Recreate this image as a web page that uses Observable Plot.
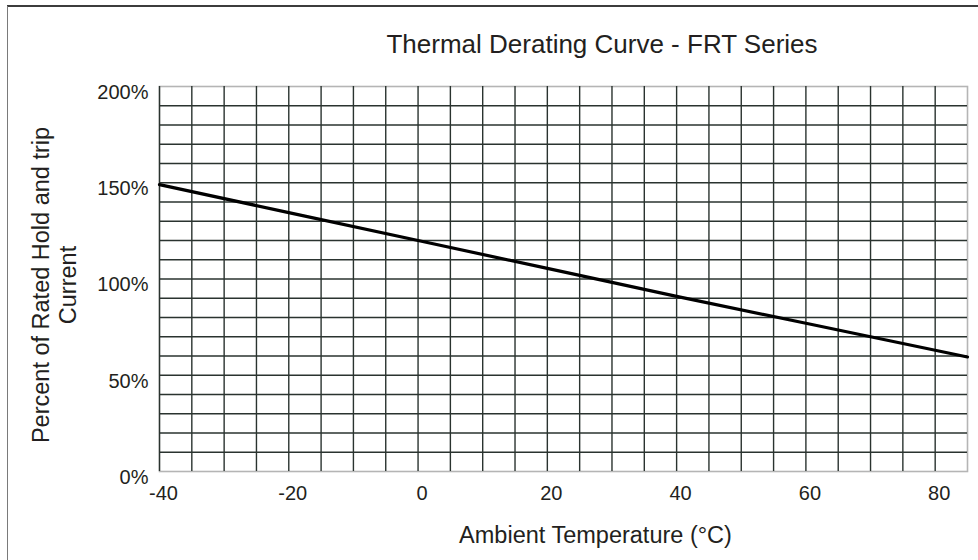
<!DOCTYPE html>
<html>
<head>
<meta charset="utf-8">
<script src="https://cdn.jsdelivr.net/npm/d3@7"></script>
<script src="https://cdn.jsdelivr.net/npm/@observablehq/plot@0.6"></script>
<style>
  html, body { margin: 0; padding: 0; background: #fff; }
  #wrap { position: relative; width: 978px; height: 560px; overflow: hidden; font-family: "Liberation Sans", Arial, sans-serif; color: #231f20; }
  #topline { position: absolute; left: 7px; top: 5px; width: 971px; height: 2px; background: #3c3c3c; }
  #leftline { position: absolute; left: 7px; top: 6px; width: 1px; height: 554px; background: #7a7a7a; }
  #title { position: absolute; left: 302px; width: 600px; top: 29px; line-height: 30px; font-size: 26px; text-align: center; white-space: nowrap; }
  #chart { position: absolute; left: 0; top: 0; }
</style>
</head>
<body>
<div id="wrap">
  <div id="chart"></div>
  <div id="topline"></div>
  <div id="leftline"></div>
  <div id="title">Thermal Derating Curve - FRT Series</div>
</div>
<script>
// Data
const temps = [-40, -20, 0, 20, 40, 60, 85];
const percents = [149, 134.5, 120, 105.5, 91, 77, 59.5];

// Axis ticks
const xTicks = [-40, -20, 0, 20, 40, 60, 80];
const yTicks = [0, 50, 100, 150, 200];

// Grid lines (every 5 °C and every 10 %)
const gridX = [-40, -35, -30, -25, -20, -15, -10, -5, 0, 5, 10, 15, 20, 25, 30, 35, 40, 45, 50, 55, 60, 65, 70, 75, 80];
const gridY = [10, 20, 30, 40, 50, 60, 70, 80, 90, 100, 110, 120, 130, 140, 150, 160, 170, 180, 190];

const xLabel = "Ambient Temperature (°C)";
const yLabel = "Percent of Rated Hold and trip\nCurrent";

const curve = temps.map((t, i) => ({t, p: percents[i]}));

const chart = Plot.plot({
  width: 978,
  height: 560,
  marginLeft: 159,
  marginRight: 11,
  marginTop: 86,
  marginBottom: 89,
  style: {fontFamily: '"Liberation Sans", Arial, sans-serif', fontSize: "20px", color: "#231f20", background: "transparent"},
  x: {domain: [-40, 85]},
  y: {domain: [0, 200]},
  marks: [
    Plot.frame({stroke: "#b5b5b5", strokeWidth: 1.6}),
    Plot.ruleX(gridX, {stroke: "#2a332f", strokeWidth: 1.4}),
    Plot.ruleY(gridY, {stroke: "#2a332f", strokeWidth: 1.4}),
    Plot.line(curve, {x: "t", y: "p", stroke: "#000", strokeWidth: 3.2}),
    Plot.axisX({ticks: xTicks, tickSize: 0, tickPadding: 14, dx: 4, label: null, fontSize: 20, tickFormat: d => String(d)}),
    Plot.axisY({ticks: yTicks, tickSize: 0, tickPadding: 11, dy: 6, label: null, fontSize: 20, tickFormat: d => d + "%"}),
    Plot.text([xLabel], {text: d => d, frameAnchor: "bottom", dx: 32, dy: 71, fontSize: 23.5}),
    Plot.text([yLabel], {text: d => d, frameAnchor: "left", textAnchor: "middle", lineAnchor: "middle", rotate: -90, dx: -105.5, dy: 6, fontSize: 23.5, lineHeight: 1.15})
  ]
});
document.getElementById("chart").appendChild(chart);
</script>
</body>
</html>
